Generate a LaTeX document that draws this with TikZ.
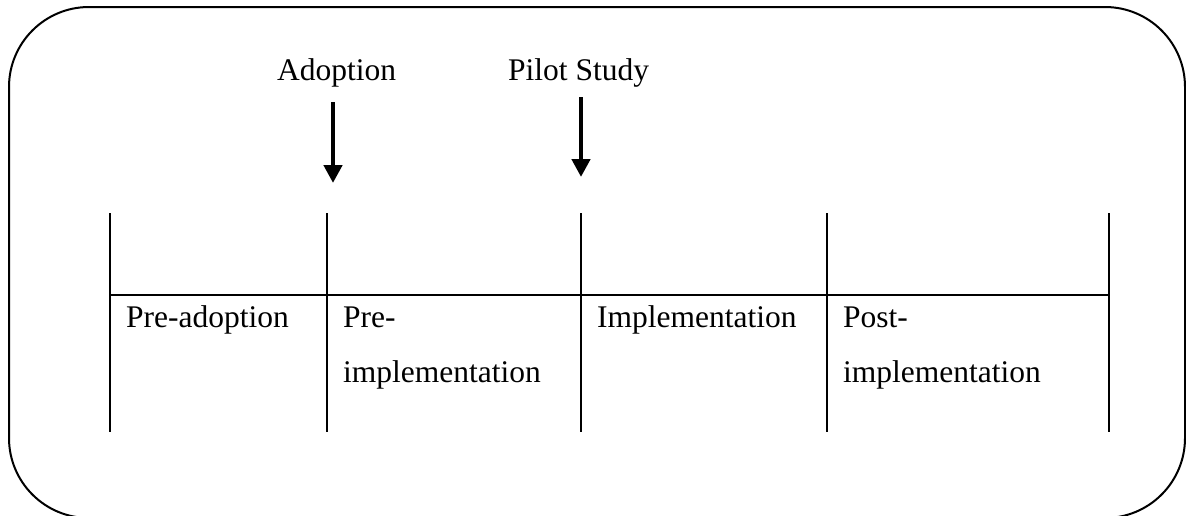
\documentclass[tikz,border=0pt]{standalone}
\usepackage{fontspec}
\setmainfont{Liberation Serif}
\usetikzlibrary{arrows.meta}
\begin{document}
\begin{tikzpicture}[x=1pt,y=-1pt,
  frame/.style={line width=2pt, rounded corners=80pt},
  rule/.style={line width=1.8pt},
  phase/.style={font=\fontsize{31.5}{38}\selectfont, inner sep=0pt, anchor=base west},
  marker/.style={line width=4.5pt, -{Triangle[width=18pt,length=18pt]}}]
\useasboundingbox (0,0) rectangle (1186,515);
% outer rounded frame
\draw[frame] (9,7) rectangle (1185,518);
% timeline table: vertical separators and middle rule
\foreach \x/\n in {110/a,327/b,581/c,827/d,1109/e}{
  \coordinate (t\n) at (\x,213);
  \coordinate (b\n) at (\x,432);
  \draw[rule] (t\n) -- (b\n);
}
\coordinate (hl) at (110,295);
\coordinate (hr) at (1109,295);
\draw[rule] (hl) -- (hr);
% phase names
\node[phase] (pa)  at (126,327) {Pre-adoption};
\node[phase] (pi1) at (343,327) {Pre-};
\node[phase] (pi2) at (343,382) {implementation};
\node[phase] (im)  at (597,327) {Implementation};
\node[phase] (po1) at (843,327) {Post-};
\node[phase] (po2) at (843,382) {implementation};
% milestones
\node[phase] (ad) at (277,80) {Adoption};
\node[phase] (ps) at (508,80) {Pilot Study};
\coordinate (ads) at (333,102);
\coordinate (ade) at (333,183);
\coordinate (pss) at (581,97);
\coordinate (pse) at (581,177);
\draw[marker] (ads) -- (ade);
\draw[marker] (pss) -- (pse);
\end{tikzpicture}
\end{document}
